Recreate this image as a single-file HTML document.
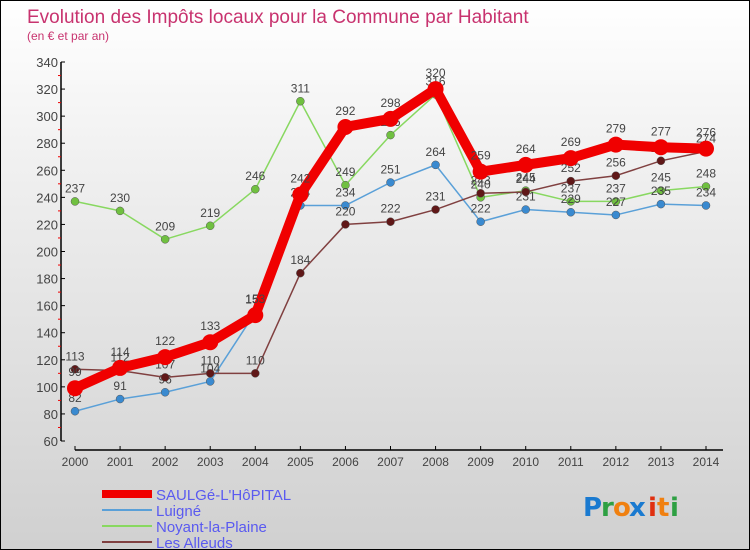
<!DOCTYPE html>
<html><head><meta charset="utf-8"><style>
body{margin:0}
#c{width:748px;height:548px;border:1px solid #000;background:linear-gradient(#ffffff,#f0f0f0 30%,#d0d0d0);position:relative;font-family:"Liberation Sans",sans-serif;overflow:hidden}
</style></head><body>
<div id="c">
<svg id="s" width="748" height="548" style="position:absolute;left:0;top:0" font-family="Liberation Sans, sans-serif">
<text x="26" y="22" font-size="19" fill="#c8336f">Evolution des Impôts locaux pour la Commune par Habitant</text>
<text x="26" y="39" font-size="12" fill="#c8336f">(en € et par an)</text>
<g id="axes"></g><g id="series"></g><g id="legend"></g>
<g font-size="26" font-weight="bold" font-family="DejaVu Sans, sans-serif">
<text x="582" y="515" fill="#1a7ad0">P</text><text x="600" y="515" fill="#2ea043">r</text><text x="612" y="515" fill="#f08010">o</text><text x="628" y="515" fill="#1a7ad0">x</text><text x="647" y="515" fill="#e03010">i</text><text x="656" y="515" fill="#f08010">t</text><text x="669" y="515" fill="#2ea043">i</text>
</g>
</svg>
</div>
<script>
const years=[2000,2001,2002,2003,2004,2005,2006,2007,2008,2009,2010,2011,2012,2013,2014];
const saulge=[99,114,122,133,153,242,292,298,320,259,264,269,279,277,276];
const luigne=[82,91,96,104,155,234,234,251,264,222,231,229,227,235,234];
const noyant=[237,230,209,219,246,311,249,286,316,240,245,237,237,245,248];
const alleuds=[113,112,107,110,110,184,220,222,231,243,244,252,256,267,274];
const yTicks=[60,80,100,120,140,160,180,200,220,240,260,280,300,320,340];
const NS="http://www.w3.org/2000/svg";
function X(i){return 74+i*(631/(years.length-1));}
function Y(v){return 440-(v-60)*(379/280);}
function mk(t,a,p){const e=document.createElementNS(NS,t);for(const k in a)e.setAttribute(k,a[k]);p.appendChild(e);return e;}
const ax=document.getElementById('axes');
let e=mk('line',{x1:60,y1:Y(340),x2:60,y2:Y(60),stroke:'#000','stroke-width':1.5},ax);

e=mk('line',{x1:74,y1:449,x2:722,y2:449,stroke:'#000','stroke-width':1.5},ax);

yTicks.forEach((v,i)=>{
 mk('line',{x1:60,y1:Y(v),x2:64,y2:Y(v),stroke:'#000'},ax);
 if(i<yTicks.length-1)mk('line',{x1:57,y1:Y(v+10),x2:60,y2:Y(v+10),stroke:'#e00'},ax);
 const t=mk('text',{x:57,y:Y(v)+5,'text-anchor':'end','font-size':13,fill:'#444'},ax);t.textContent=v;
 
});
years.forEach((y,i)=>{
 mk('line',{x1:X(i),y1:445,x2:X(i),y2:449,stroke:'#000'},ax);
 const t=mk('text',{x:X(i),y:465,'text-anchor':'middle','font-size':12,fill:'#444'},ax);t.textContent=y;
 
});
const sg=document.getElementById('series');
const series=[
 {n:'noyant',d:noyant,c:'#88d860',f:'#70c040',w:1.5,r:4,label:'Noyant-la-Plaine'},
 {n:'luigne',d:luigne,c:'#5aa0d8',f:'#3a8ad0',w:1.5,r:4,label:'Luigné'},
 {n:'alleuds',d:alleuds,c:'#804040',f:'#601818',w:1.5,r:4,label:'Les Alleuds'},
 {n:'saulge',d:saulge,c:'#f00000',f:'#f00000',w:10,r:8,label:'SAULGé-L\'HôPITAL'}
];
series.forEach(s=>{
 const g=mk('g',{},sg);
 
 const p=mk('polyline',{points:s.d.map((v,i)=>X(i)+','+Y(v)).join(' '),fill:'none',stroke:s.c,'stroke-width':s.w,'stroke-linejoin':'round'},g);
 
 s.d.forEach((v,i)=>{
  const c=mk('circle',{cx:X(i),cy:Y(v),r:s.r,fill:s.f,stroke:s.n=='saulge'?'none':'#555','stroke-width':0.5},g);
  
  const t=mk('text',{x:X(i),y:Y(v)-(s.n=='saulge'?12:9),'text-anchor':'middle','font-size':12,fill:'#444'},g);t.textContent=v;
  
 });
});
const lg=document.getElementById('legend');
const order=[3,1,0,2];
order.forEach((k,j)=>{
 const s=series[k];const y=493+j*16;
 const g=mk('g',{},lg);
 
 mk('line',{x1:101,y1:y,x2:151,y2:y,stroke:s.c,'stroke-width':k==3?8:2},g);
 const t=mk('text',{x:155,y:y+6,'font-size':15,fill:'#5a5af0'},g);t.textContent=s.label;
});
</script>
</body></html>
